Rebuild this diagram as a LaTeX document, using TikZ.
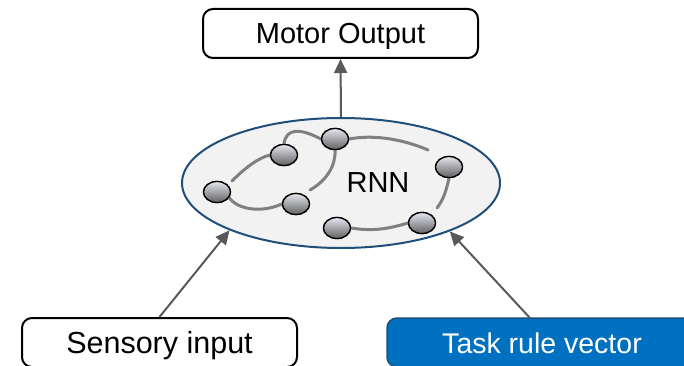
\documentclass[tikz,border=0pt]{standalone}
\usepackage{fontspec}
\setmainfont{Liberation Sans}
\usetikzlibrary{shapes.geometric,arrows.meta}
\definecolor{ringblue}{HTML}{1F4E79}
\definecolor{taskblue}{HTML}{0070C0}
\definecolor{taskedge}{HTML}{1F4E79}
\definecolor{linkgray}{HTML}{808080}
\definecolor{arrowgray}{HTML}{595959}
\definecolor{ballfill}{HTML}{E4E6EE}
\tikzset{
  labelbox/.style={draw=black, line width=2pt, rounded corners=10pt, fill=white,
    minimum height=49pt, text height=21pt, text depth=0pt, inner sep=0pt,
    font=\fontsize{29}{34}\selectfont},
  taskbox/.style={labelbox, draw=taskedge, fill=taskblue, text=white, line width=1.5pt},
  ring/.style={ellipse, draw=ringblue, line width=2pt, fill=black!5,
    minimum width=318pt, minimum height=130pt, inner sep=0pt},
  ball/.style={ellipse, draw=black, line width=1.3pt, minimum width=27pt,
    minimum height=21pt, inner sep=0pt, top color=ballfill, bottom color=black!62},
  link/.style={draw=linkgray, line width=3pt, line cap=round},
  feed/.style={draw=arrowgray, line width=2pt,
    -{Triangle[length=14pt,width=13pt]}},
}
\begin{document}
\begin{tikzpicture}[x=1pt, y=-1pt]
  \useasboundingbox (0,0) rectangle (684,366);
  \clip (0,0) rectangle (684,366);

  % boxes
  \node[labelbox, minimum width=275pt] (motor) at (340.5,33.5) {Motor Output};
  \node[labelbox, minimum width=275pt, font=\fontsize{30.5}{35}\selectfont]
       (sensory) at (159.5,342.5) {Sensory input};
  \node[taskbox, minimum width=310pt, font=\fontsize{28.5}{34}\selectfont]
       (task) at (542,342.5) {Task rule vector};

  % recurrent network
  \node[ring] (rnn) at (341,183) {};
  \node[font=\fontsize{29}{34}\selectfont, text height=21pt, text depth=0pt,
        inner sep=0pt] (rnnlabel) at (378,182) {RNN};

  % units
  \node[ball] (u1) at (217,192) {};
  \node[ball] (u2) at (284,155) {};
  \node[ball] (u3) at (335,139) {};
  \node[ball] (u4) at (296,204) {};
  \node[ball] (u5) at (449,167) {};
  \node[ball] (u6) at (422,223) {};
  \node[ball] (u7) at (337,228) {};

  % recurrent links (some stop short of the unit they head to)
  \coordinate (e1) at (232,181);
  \coordinate (e4) at (310,190);
  \coordinate (e5) at (428,150);
  \coordinate (e6) at (437,208);
  \path[link] (e1) .. controls (245,168) and (258,158) .. (u2.west);
  \path[link] (u1.-25) .. controls (238,210) and (262,213) .. (u4.west);
  \path[link] (u2.north) .. controls (286,128) and (300,128) .. (u3.west);
  \path[link] (u3.south) .. controls (336,166) and (326,181) .. (e4);
  \path[link] (u3.east) .. controls (375,134) and (405,140) .. (e5);
  \path[link] (u5.south) .. controls (446,192) and (443,200) .. (e6);
  \path[link] (u6.west) .. controls (385,230) and (370,231) .. (u7.east);

  % redraw units over the links
  \foreach \u in {u1,u2,u3,u4,u5,u6,u7}
    \node[ball] at (\u) {};

  % connections between stages
  \coordinate (taskout) at (530,318);
  \draw[feed] (rnn.north) -- (motor.south);
  \draw[feed] (sensory.north) -- (rnn.203);
  \draw[feed] (taskout) -- (rnn.336);
\end{tikzpicture}
\end{document}
